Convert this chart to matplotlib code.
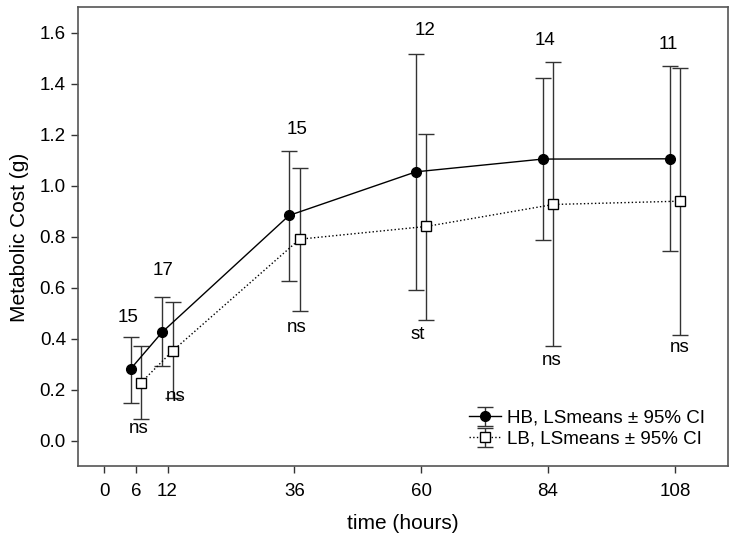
import matplotlib
matplotlib.use("Agg")
import matplotlib.pyplot as plt

plt.rcParams['font.family'] = ['Liberation Sans', 'DejaVu Sans']

times = [6, 12, 36, 60, 84, 108]
hb_mean = [0.282, 0.427, 0.884, 1.055, 1.105, 1.106]
hb_low = [0.149, 0.292, 0.629, 0.591, 0.788, 0.745]
hb_high = [0.408, 0.564, 1.135, 1.518, 1.424, 1.471]
lb_mean = [0.229, 0.354, 0.791, 0.841, 0.927, 0.940]
lb_low = [0.085, 0.17, 0.511, 0.476, 0.371, 0.416]
lb_high = [0.371, 0.545, 1.070, 1.205, 1.486, 1.463]

n_labels = ['15', '17', '15', '12', '14', '11']
n_pos_x = [4.5, 11.1, 36.6, 60.8, 83.4, 106.8]
n_pos_y = [0.484, 0.669, 1.220, 1.610, 1.568, 1.553]
sig_labels = ['ns', 'ns', 'ns', 'st', 'ns', 'ns']
sig_pos_x = [6.5, 13.5, 36.5, 59.4, 84.7, 108.9]
sig_pos_y = [0.047, 0.174, 0.446, 0.417, 0.316, 0.365]

xticks = [0, 6, 12, 36, 60, 84, 108]
yticks = [0.0, 0.2, 0.4, 0.6, 0.8, 1.0, 1.2, 1.4, 1.6]

offset = 1.0

fig = plt.figure(figsize=(7.36, 5.43), dpi=100)
ax = fig.add_axes([0.1056, 0.1409, 0.8831, 0.8457])

hb_x = [t - offset for t in times]
lb_x = [t + offset for t in times]
hb_err = [[m - l for m, l in zip(hb_mean, hb_low)], [h - m for m, h in zip(hb_mean, hb_high)]]
lb_err = [[m - l for m, l in zip(lb_mean, lb_low)], [h - m for m, h in zip(lb_mean, lb_high)]]

ax.errorbar(hb_x, hb_mean, yerr=hb_err, fmt='o', color='black', ecolor='#333333',
            elinewidth=1.0, capsize=6, capthick=1.0, markersize=7,
            ls='-', lw=1.0, label='HB, LSmeans ± 95% CI', zorder=3)
ax.errorbar(lb_x, lb_mean, yerr=lb_err, fmt='s', color='black', ecolor='#333333',
            mfc='white', mec='black', mew=1.0,
            elinewidth=1.0, capsize=6, capthick=1.0, markersize=7,
            ls=':', lw=1.0, label='LB, LSmeans ± 95% CI', zorder=3)

for lab, x, y in zip(n_labels, n_pos_x, n_pos_y):
    ax.text(x, y, lab, ha='center', va='center', fontsize=13.5)
for lab, x, y in zip(sig_labels, sig_pos_x, sig_pos_y):
    ax.text(x, y, lab, ha='center', va='center', fontsize=13.5)

ax.set_xlim(-5, 118)
ax.set_ylim(-0.1, 1.7)
ax.set_xticks(xticks)
ax.set_xticklabels([str(t) for t in xticks])
ax.set_yticks(yticks)
ax.set_yticklabels([f'{v:.1f}' for v in yticks])
ax.tick_params(direction='out', length=5, width=1, labelsize=13.5, colors='#333333',
               labelcolor='black', top=False, right=False)
ax.tick_params(axis='x', pad=7)
for s in ax.spines.values():
    s.set_color('#555555')
    s.set_linewidth(1.2)

ax.set_xlabel('time (hours)', fontsize=15, labelpad=10)
ax.set_ylabel('Metabolic Cost (g)', fontsize=15, labelpad=8)

leg = ax.legend(loc='lower right', bbox_to_anchor=(0.985, 0.012), frameon=False,
                fontsize=13.5, handlelength=1.7, handletextpad=0.3, labelspacing=0.2,
                borderpad=0.2)

fig.savefig('out.png', dpi=100)
